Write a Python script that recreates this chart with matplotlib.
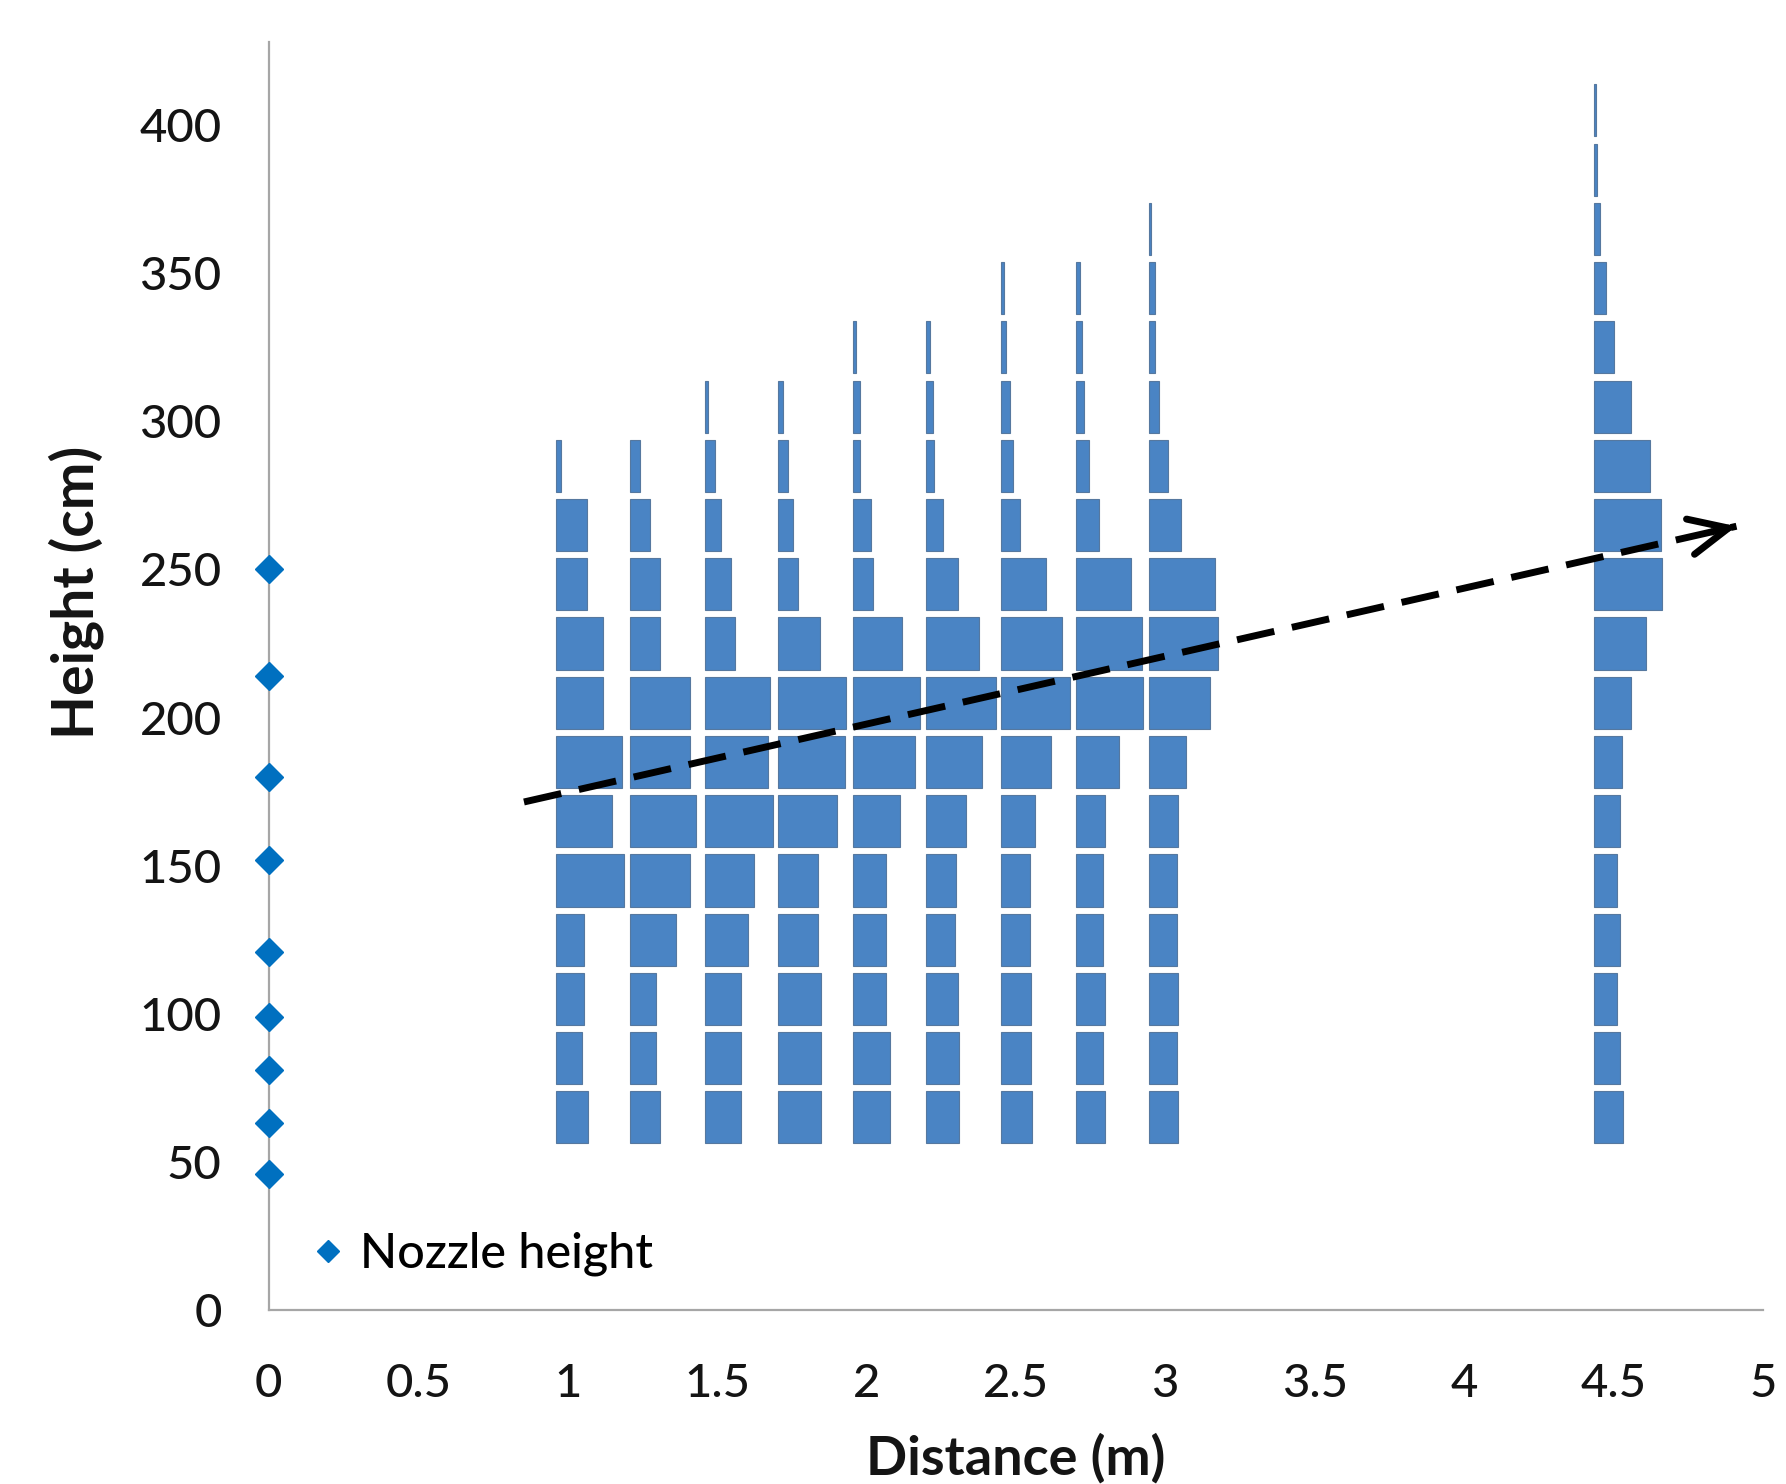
import matplotlib
matplotlib.use("Agg")
import matplotlib.pyplot as plt

plt.rcParams['font.family'] = ['Lato', 'DejaVu Sans']

# ---------------- data ----------------
# height bins (cm): centres of the 20 cm bins, starting at 65 cm
bin_start = 65
bin_step = 20

# left edge of every column of bars (m)
bar_left = [0.96, 1.21, 1.46, 1.705, 1.955, 2.20, 2.45, 2.70, 2.945, 4.435]

# bar lengths (m) per column, from the lowest bin (65 cm) upwards
w_col1 = [0.107, 0.087, 0.094, 0.094, 0.228, 0.187, 0.221, 0.160, 0.157, 0.106, 0.106, 0.017]
w_col2 = [0.100, 0.087, 0.087, 0.152, 0.200, 0.221, 0.200, 0.200, 0.100, 0.100, 0.065, 0.031]
w_col3 = [0.120, 0.120, 0.120, 0.143, 0.164, 0.228, 0.210, 0.217, 0.100, 0.087, 0.054, 0.033, 0.010]
w_col4 = [0.143, 0.143, 0.143, 0.134, 0.134, 0.195, 0.223, 0.226, 0.140, 0.065, 0.050, 0.031, 0.016]
w_col5 = [0.123, 0.123, 0.109, 0.109, 0.109, 0.156, 0.208, 0.223, 0.165, 0.066, 0.062, 0.025, 0.025, 0.010]
w_col6 = [0.109, 0.109, 0.106, 0.098, 0.100, 0.132, 0.187, 0.234, 0.178, 0.106, 0.058, 0.025, 0.022, 0.012]
w_col7 = [0.104, 0.100, 0.100, 0.098, 0.098, 0.114, 0.167, 0.232, 0.206, 0.151, 0.065, 0.042, 0.031, 0.018, 0.012]
w_col8 = [0.100, 0.093, 0.100, 0.093, 0.093, 0.100, 0.145, 0.226, 0.221, 0.187, 0.079, 0.046, 0.028, 0.020, 0.014]
w_col9 = [0.098, 0.093, 0.098, 0.093, 0.093, 0.098, 0.126, 0.204, 0.232, 0.223, 0.109, 0.065, 0.033, 0.022, 0.022, 0.006]
w_col10 = [0.097, 0.086, 0.077, 0.086, 0.077, 0.086, 0.095, 0.125, 0.173, 0.229, 0.223, 0.188,
           0.125, 0.066, 0.041, 0.019, 0.010, 0.008]
columns = [w_col1, w_col2, w_col3, w_col4, w_col5, w_col6, w_col7, w_col8, w_col9, w_col10]

# nozzle heights (cm) at distance 0
nozzle_x = [0, 0, 0, 0, 0, 0, 0, 0, 0]
nozzle_h = [250, 214, 180, 152, 121, 99, 81, 63, 46]

# trend arrow (annotation)
arrow_start = (0.854, 171.5)
arrow_end = (4.912, 264.6)

x_ticks = [0, 0.5, 1, 1.5, 2, 2.5, 3, 3.5, 4, 4.5, 5]
x_ticklabels = ["0", "0.5", "1", "1.5", "2", "2.5", "3", "3.5", "4", "4.5", "5"]
y_ticks = [0, 50, 100, 150, 200, 250, 300, 350, 400]

# ---------------- figure ----------------
fig = plt.figure(figsize=(17.86, 14.84), dpi=100)
ax = fig.add_axes([0.1505, 0.1173, 0.8365, 0.8542])

bar_color = '#4A84C4'
edge_color = '#56789F'
for left, widths in zip(bar_left, columns):
    ys = [bin_start + i * bin_step for i in range(len(widths))]
    ax.barh(ys, widths, left=left, height=17.6, color=bar_color,
            edgecolor=edge_color, linewidth=0.8, zorder=2)

ax.plot(nozzle_x, nozzle_h, linestyle='none', marker='D', markersize=14,
        color='#0070C0', markeredgecolor='#0070C0', clip_on=False, zorder=4,
        label='Nozzle height')

# dashed trend arrow
ax.plot([arrow_start[0], arrow_end[0]], [arrow_start[1], arrow_end[1]],
        color='black', linewidth=5, linestyle=(0, (5.5, 2.6)), zorder=5,
        solid_capstyle='butt', dash_capstyle='butt')
dx = arrow_end[0] - arrow_start[0]
dy = arrow_end[1] - arrow_start[1]
ax.annotate('', xy=arrow_end,
            xytext=(arrow_end[0] - 0.02 * dx, arrow_end[1] - 0.02 * dy),
            arrowprops=dict(arrowstyle='->,head_length=1.4,head_width=0.65',
                            color='black', lw=5, mutation_scale=20,
                            shrinkA=0, shrinkB=0, capstyle='round'),
            zorder=6)

ax.set_xlim(0, 5)
ax.set_ylim(0, 428)
ax.set_xticks(x_ticks)
ax.set_xticklabels(x_ticklabels)
ax.set_yticks(y_ticks)

for s in ['top', 'right']:
    ax.spines[s].set_visible(False)
for s in ['left', 'bottom']:
    ax.spines[s].set_color('#A6A6A6')
    ax.spines[s].set_linewidth(1.6)

ax.tick_params(axis='both', length=0, labelsize=34, colors='#141414')
for lbl in ax.get_xticklabels() + ax.get_yticklabels():
    lbl.set_fontweight('medium')
ax.tick_params(axis='x', pad=38)
ax.tick_params(axis='y', pad=34)

ax.set_xlabel('Distance (m)', fontsize=39, fontweight='bold', color='#141414')
ax.set_ylabel('Height (cm)', fontsize=41, fontweight='bold', color='#141414')
ax.xaxis.set_label_coords(0.5, -0.097)
ax.yaxis.set_label_coords(-0.110, 0.566)

leg = ax.legend(loc='center left', bbox_to_anchor=(0.012, 0.044), frameon=False,
                prop={'size': 35, 'weight': 'medium'}, handlelength=0.7,
                handletextpad=0.3, borderpad=0, markerscale=0.8)

fig.savefig('out.png', dpi=100, facecolor='white')
